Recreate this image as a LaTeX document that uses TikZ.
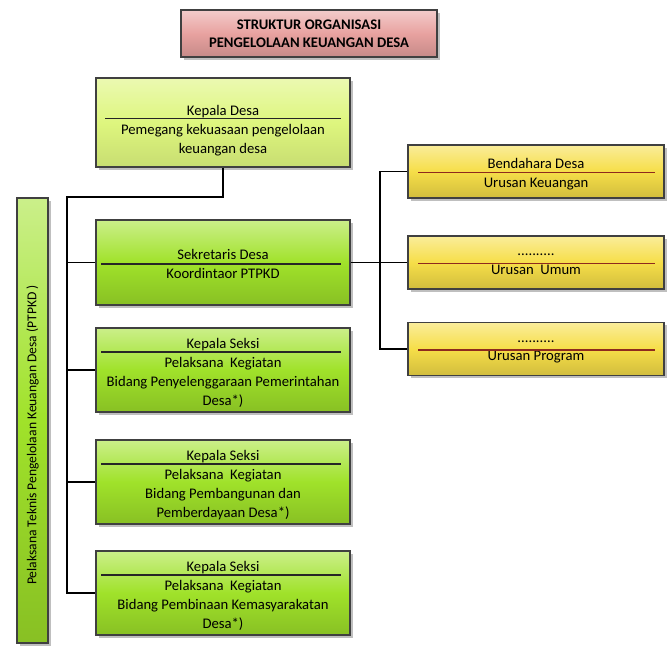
\documentclass[tikz,border=0pt]{standalone}
\usepackage{fontspec}
\setmainfont{Carlito}
\usepackage{tikz}
\usetikzlibrary{shadows,positioning}

\definecolor{pinkbox}{HTML}{E8A2A0}
\definecolor{limebox}{HTML}{DEF67E}
\definecolor{greenbox}{HTML}{A0E22A}
\definecolor{yellowbox}{HTML}{F6DE48}
\definecolor{redrule}{HTML}{8E2A1E}

\begin{document}
\begin{tikzpicture}[x=0.75pt,y=-0.75pt,
    box/.style={draw=black!75,line width=0.8pt,inner sep=0pt,
      drop shadow={shadow xshift=2pt,shadow yshift=-2pt,opacity=0.5}},
    boxtext/.style={align=center,inner sep=0pt,font=\fontsize{11}{14.2}\selectfont,
      execute at begin node=\strut,execute at end node=\strut},
    titlebox/.style={box,top color=pinkbox!55!white,bottom color=pinkbox!85!black,
      middle color=pinkbox,minimum width=192pt,minimum height=35.25pt,align=center,
      font=\fontsize{11}{13.5}\selectfont\bfseries},
    headbox/.style={box,top color=limebox!60!white,bottom color=limebox!90!black,
      middle color=limebox,minimum width=190.5pt,minimum height=66.75pt},
    unitbox/.style={box,top color=greenbox!55!white,bottom color=greenbox!85!black,
      middle color=greenbox,minimum width=190.5pt,minimum height=63pt},
    urusanbox/.style={box,top color=yellowbox!55!white,bottom color=yellowbox!85!black,
      middle color=yellowbox,minimum width=192pt,minimum height=39.75pt},
    link/.style={line width=1.1pt},
    rule/.style={line width=0.9pt,black!85}]
  \useasboundingbox (0,0) rectangle (669,661);

  % judul
  \node[titlebox] (title) at (309,33.5) {STRUKTUR ORGANISASI\\PENGELOLAAN KEUANGAN DESA};

  % kolom kiri
  \node[headbox] (kd) at (223,122.5) {};
  \node[unitbox,minimum height=63.75pt] (sd) at (223,262.5) {};
  \node[unitbox] (ks1) at (223,370) {};
  \node[unitbox] (ks2) at (223,482) {};
  \node[unitbox] (ks3) at (223,593) {};
  \node[unitbox,minimum width=23.25pt,minimum height=333.75pt] (ptpkd) at (32.5,420.5) {};

  \node[boxtext] (kdt) at ([yshift=-7.5pt]kd.center)
    {Kepala Desa\\Pemegang kekuasaan pengelolaan\\keuangan desa};
  \node[boxtext] (sdt) at ([yshift=-3.4pt]sd.center) {Sekretaris Desa\\Koordintaor PTPKD};
  \node[boxtext] (ks1t) at ([yshift=-3.4pt]ks1.center)
    {Kepala Seksi\\Pelaksana~ Kegiatan\\Bidang Penyelenggaraan Pemerintahan\\Desa*)};
  \node[boxtext] (ks2t) at ([yshift=-3.4pt]ks2.center)
    {Kepala Seksi\\Pelaksana~ Kegiatan\\Bidang Pembangunan dan\\Pemberdayaan Desa*)};
  \node[boxtext] (ks3t) at ([yshift=-3.4pt]ks3.center)
    {Kepala Seksi\\Pelaksana~ Kegiatan\\Bidang Pembinaan Kemasyarakatan\\Desa*)};
  \node[rotate=90,font=\fontsize{10.2}{12}\selectfont] (ptpkdt) at (32.5,435)
    {Pelaksana Teknis Pengelolaan Keuangan Desa (PTPKD )};

  % kolom kanan
  \node[urusanbox] (rb1) at (536,171.5) {};
  \node[urusanbox] (rb2) at (536,262.5) {};
  \node[urusanbox] (rb3) at (536,349) {};
  \node[boxtext] (rb1t) at ([yshift=-3.4pt]rb1.center) {Bendahara Desa\\Urusan Keuangan};
  \node[boxtext] (rb2t) at ([yshift=-3.4pt]rb2.center) {..........\\Urusan~ Umum};
  \node[boxtext] (rb3t) at ([yshift=-3.4pt]rb3.center) {..........\\Urusan Program};

  % garis pemisah
  \draw[rule] (105,118.5) -- (341,118.5);
  \foreach \y in {264,352,464,575}
    \draw[rule] (101,\y) -- (341,\y);
  \foreach \y in {172.5,263.5,350}
    \draw[rule,redrule] (418,\y) -- (655,\y);

  % penghubung
  \coordinate (spine) at (67,197);
  \coordinate (rspine) at (380,262.5);
  \draw[link] (kd.south) |- (spine) |- (ks3.west);
  \foreach \b in {sd,ks1,ks2}
    \draw[link] (spine |- \b.west) -- (\b.west);
  \draw[link] (sd.east) -- (rb2.west);
  \draw[link] (rb1.west) -- (rspine |- rb1.west) -- (rspine |- rb3.west) -- (rb3.west);
\end{tikzpicture}
\end{document}
